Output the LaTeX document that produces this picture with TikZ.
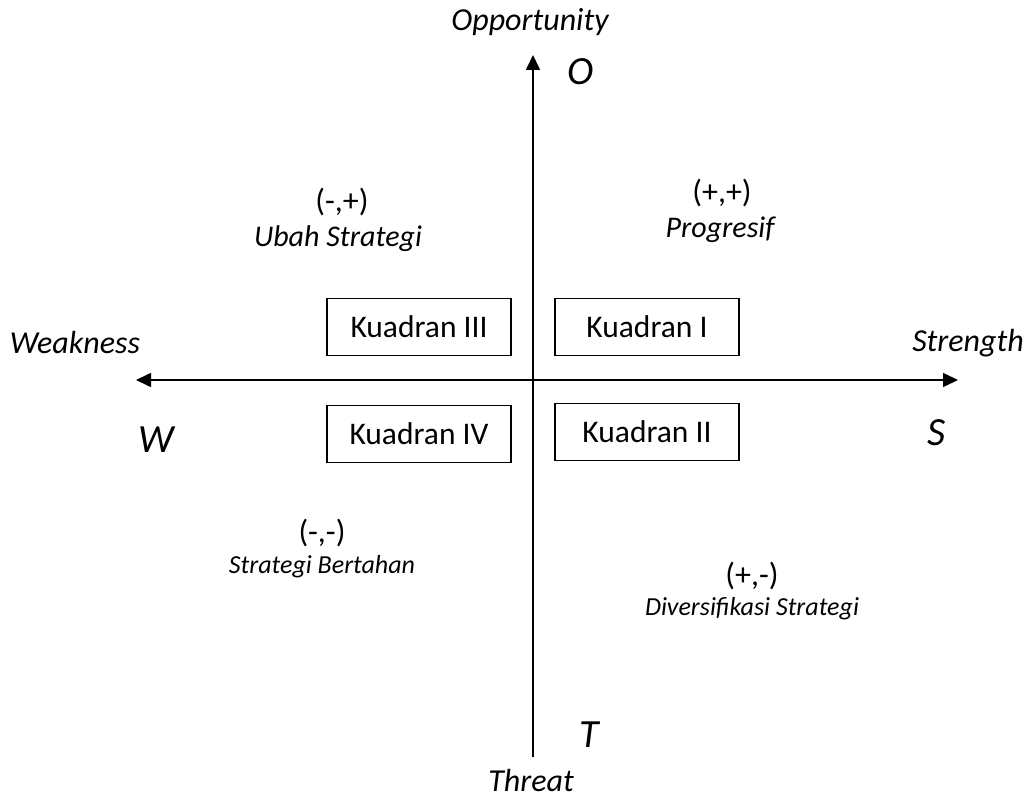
\documentclass[tikz,border=0pt]{standalone}
\usepackage{fontspec}
\setmainfont{Carlito}
\usetikzlibrary{arrows.meta}
\begin{document}
\begin{tikzpicture}[x=1pt,y=-1pt,
  axis/.style={line width=1.6pt,-{Triangle[length=15pt,width=14pt]}},
  quad/.style={draw,line width=1.2pt,minimum width=184pt,minimum height=57pt,font=\fontsize{31.5}{36}\selectfont},
  lbl/.style={font=\fontsize{32}{36}\selectfont\itshape},
  big/.style={font=\fontsize{40}{44}\selectfont\itshape},
  sign/.style={font=\fontsize{32}{36}\selectfont},
  strat/.style={font=\fontsize{30}{34}\selectfont\itshape},
  stratsm/.style={font=\fontsize{26}{30}\selectfont\itshape}]
\useasboundingbox (0,0) rectangle (1033,805);
\coordinate (top) at (533,55);
\coordinate (bot) at (533,757);
\coordinate (left) at (136,380);
\coordinate (right) at (958,380);
\coordinate (mid) at (533,380);
\draw[axis] (bot) -- (top);
\draw[axis] (mid) -- (left);
\draw[axis] (mid) -- (right);
\node[quad] (q3) at (419,327) {Kuadran III};
\node[quad] (q1) at (647,327) {Kuadran I};
\node[quad] (q4) at (419,434) {Kuadran IV};
\node[quad] (q2) at (647,432) {Kuadran II};
\node[lbl] (opp) at (530,22) {Opportunity};
\node[big] (o) at (581,72) {O};
\node[lbl] (thr) at (531,781) {Threat};
\node[big] (t) at (589,735) {T};
\node[lbl] (weak) at (75,343) {Weakness};
\node[lbl] (str) at (968,343) {Strength};
\node[big] (w) at (156,440) {W};
\node[big] (s) at (937,433) {S};
\node[sign] (s3) at (342,202) {(-,+)};
\node[strat] (u3) at (338,239) {Ubah Strategi};
\node[sign] (s1) at (722,193) {(+,+)};
\node[strat] (u1) at (720,230) {Progresif};
\node[sign] (s4) at (322,533) {(-,-)};
\node[stratsm] (u4) at (322,567) {Strategi Bertahan};
\node[sign] (s2) at (752,576) {(+,-)};
\node[stratsm] (u2) at (752,609) {Diversifikasi Strategi};
\end{tikzpicture}
\end{document}
